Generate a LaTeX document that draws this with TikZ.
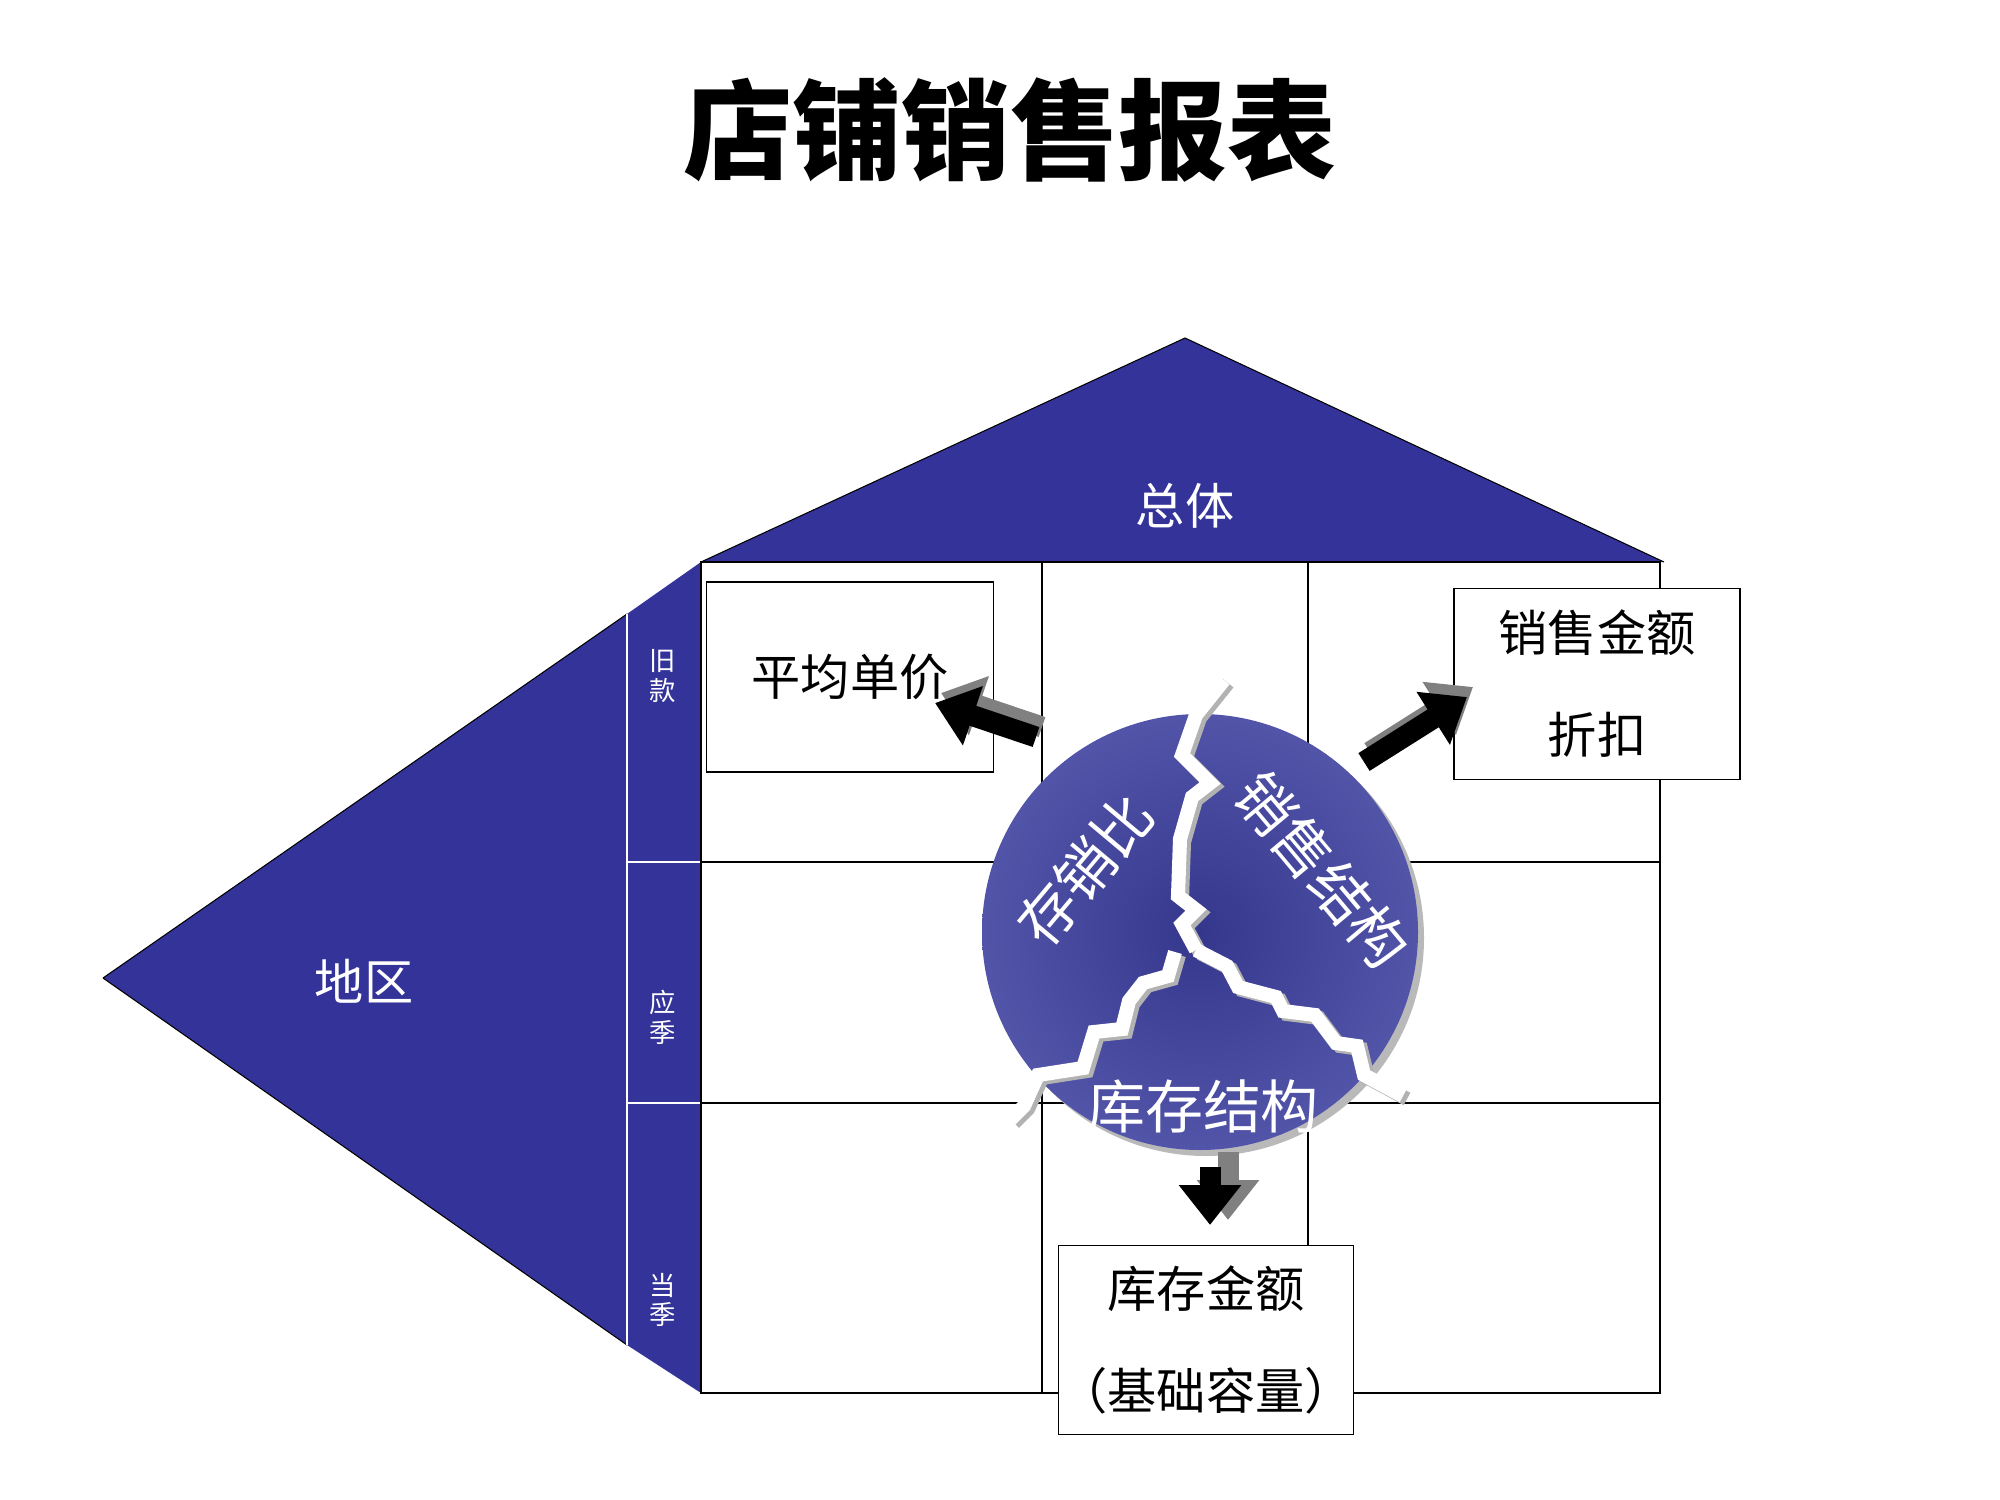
\documentclass[tikz,border=0pt]{standalone}
\usepackage{fontspec}
\setmainfont{Noto Sans CJK SC}
\usetikzlibrary{arrows.meta,shadings}
\definecolor{hblue}{HTML}{333399}
\definecolor{cblue}{HTML}{3A3D9C}
\tikzset{
  grid/.style={draw=black,line width=0.6pt},
  box/.style={draw=black,fill=white,line width=0.8pt,font=\fontsize{28}{58}\selectfont,text=black,align=center,inner sep=0pt},
  wtxt/.style={font=\fontsize{28}{34}\selectfont,text=white},
  ctxt/.style={font=\fontsize{33}{38}\selectfont,text=white},
  small/.style={font=\fontsize{15}{17}\selectfont,text=white,align=center},
  crack/.style={draw=white,line width=8pt,line join=miter},
  crackshadow/.style={draw=gray!60,line width=8pt},
  barrow/.style={line width=0.42cm,-{Triangle[length=0.8cm,width=1.2cm]}},
}
\begin{document}
\begin{tikzpicture}[x=0.02cm,y=-0.02cm]
\useasboundingbox (0,0) rectangle (2000,1500);
% title
\node[font=\fontsize{62}{68}\selectfont\bfseries] (title) at (1010,130) {店铺销售报表};
% roof
\fill[hblue] (701,562) -- (1185,338) -- (1664,562) -- cycle;
\draw[line width=0.6pt] (701,562) -- (1185,338) -- (1664,562);
% left
\fill[hblue] (103,978) -- (627,614) -- (701,562) -- (701,1393) -- (627,1345) -- cycle;
\draw[line width=0.6pt] (103,978) -- (627,614) (103,978) -- (627,1345);
\draw[white,line width=1pt] (627,614) -- (627,1345) (627,862) -- (701,862) (627,1103) -- (701,1103);
% grid
\draw[grid] (701,562) rectangle (1660,1393);
\draw[grid] (1042,562) -- (1042,1393) (1308,562) -- (1308,1393)
  (701,862) -- (1660,862) (701,1103) -- (1660,1103);
% labels
\node[wtxt] (zt) at (1185,506) {总体};
\node[wtxt] (dq) at (364,981) {地区};
\node[small] (jk) at (663,676) {旧\\款};
\node[small] (yj) at (663,1017) {应\\季};
\node[small] (dj) at (663,1300) {当\\季};
% boxes
\node[box,minimum width=287*0.02cm,minimum height=190*0.02cm] (b1) at (850,677) {平均单价};
\node[box,minimum width=286*0.02cm,minimum height=191*0.02cm] (b2) at (1597,684) {销售金额\\折扣};
\node[box,minimum width=286*0.02cm,minimum height=189*0.02cm] (b3) at (1206,1340) {库存金额\\（基础容量）};
% circle
\fill[gray!55] (1206,938) circle[radius=218*0.02cm];
\shade[inner color=cblue!90!black,outer color=cblue!88!white] (1200,932) circle[radius=218*0.02cm];
% cracks
\begin{scope}[shift={(4,3)}]
\draw[crackshadow] (1224,680) -- (1196,715) -- (1182,755) -- (1210,783) -- (1192,797) -- (1180,839) -- (1178,896) -- (1196,910) -- (1182,924) -- (1196,950);
\draw[crackshadow] (1196,950) -- (1227,966) -- (1238,987) -- (1276,997) -- (1283,1011) -- (1315,1015) -- (1336,1043) -- (1357,1046) -- (1364,1075) -- (1403,1096);
\draw[crackshadow] (1175,952) -- (1168,976) -- (1143,983) -- (1129,1001) -- (1122,1029) -- (1094,1032) -- (1083,1068) -- (1038,1075) -- (1024,1106) -- (1010,1120);
\end{scope}
\draw[crack] (1224,680) -- (1196,715) -- (1182,755) -- (1210,783) -- (1192,797) -- (1180,839) -- (1178,896) -- (1196,910) -- (1182,924) -- (1196,950);
\draw[crack] (1196,950) -- (1227,966) -- (1238,987) -- (1276,997) -- (1283,1011) -- (1315,1015) -- (1336,1043) -- (1357,1046) -- (1364,1075) -- (1403,1096);
\draw[crack] (1175,952) -- (1168,976) -- (1143,983) -- (1129,1001) -- (1122,1029) -- (1094,1032) -- (1083,1068) -- (1038,1075) -- (1024,1106) -- (1010,1120);
\node[ctxt,rotate=50] (c1) at (1085,870) {存销比};
\node[ctxt,rotate=-50] (c2) at (1322,870) {销售结构};
\node[ctxt] (c3) at (1203,1107) {库存结构};
% block arrows
\coordinate (l1) at (1036,737); \coordinate (l2) at (935,703);
\coordinate (r1) at (1364,762); \coordinate (r2) at (1467,697);
\coordinate (d1) at (1210,1152); \coordinate (d2) at (1210,1225);
\draw[barrow,gray] ([shift={(6,-10)}]l1) -- ([shift={(6,-10)}]l2);
\draw[barrow,black] (l1) -- (l2);
\draw[barrow,gray] ([shift={(6,-10)}]r1) -- ([shift={(6,-10)}]r2);
\draw[barrow,black] (r1) -- (r2);
\draw[barrow,gray] ([shift={(18,0)}]d1) -- ([shift={(18,-5)}]d2);
\draw[barrow,black] ([shift={(0,15)}]d1) -- (d2);
\end{tikzpicture}
\end{document}
